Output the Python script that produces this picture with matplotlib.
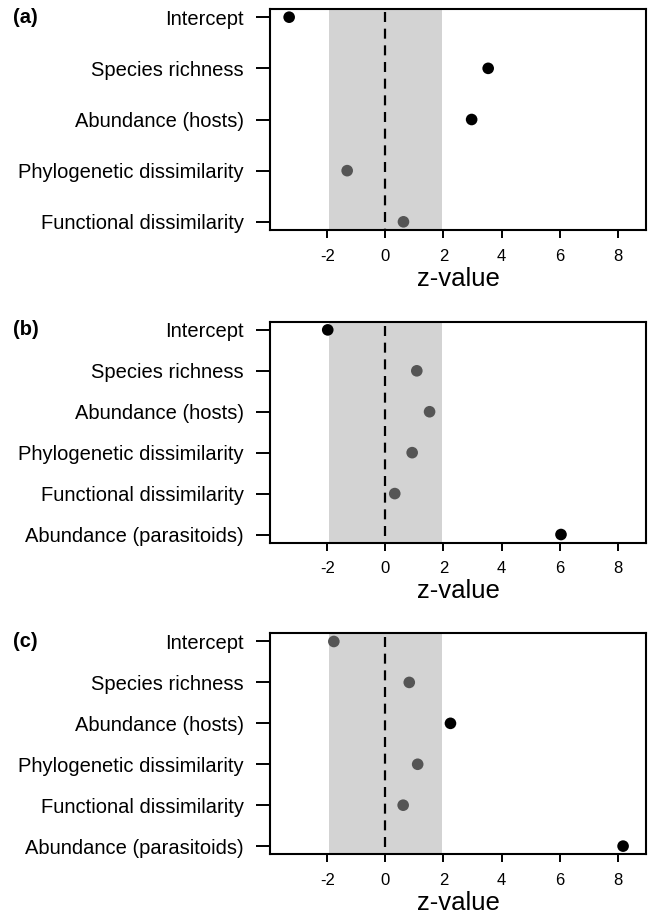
import matplotlib
matplotlib.use("Agg")
import matplotlib.pyplot as plt

plt.rcParams['font.family'] = ['Liberation Sans', 'DejaVu Sans']

# predictor names
terms_a = ["Intercept", "Species richness", "Abundance (hosts)",
           "Phylogenetic dissimilarity", "Functional dissimilarity"]
terms_bc = terms_a + ["Abundance (parasitoids)"]

# z-values
z_a = [-3.32, 3.54, 2.97, -1.32, 0.62]
z_b = [-1.99, 1.08, 1.52, 0.92, 0.32, 6.05]
z_c = [-1.78, 0.82, 2.24, 1.11, 0.61, 8.19]

panels = [("(a)", terms_a, z_a), ("(b)", terms_bc, z_b), ("(c)", terms_bc, z_c)]
xticks = [-2, 0, 2, 4, 6, 8]

fig = plt.figure(figsize=(6.51, 9.17), dpi=100)
left, width, height = 270 / 651, 376 / 651, 221 / 917
bottoms = [(917 - 230) / 917, (917 - 542.7) / 917, (917 - 854.3) / 917]

for (tag, terms, z), b in zip(panels, bottoms):
    ax = fig.add_axes([left, b, width, height])
    n = len(terms)
    pos = list(range(1, n + 1))
    pad = 0.04 * (n - 1)

    ax.axvspan(-1.96, 1.96, color="#d3d3d3", lw=0, zorder=0)
    ax.plot([0, 0], [0.9, n + pad], color="black", lw=1.6,
            ls=(0, (4.5, 3)), zorder=1)
    cols = ["black" if abs(v) > 1.96 else "#555555" for v in z]
    ax.scatter(z, pos, s=70, c=cols, zorder=3, linewidths=0)

    ax.set_xlim(-3.98, 8.98)
    ax.set_ylim(n + pad, 1 - pad)
    ax.set_yticks(pos)
    ax.set_yticklabels(terms, fontsize=14.5)
    ax.set_xticks(xticks)
    ax.set_xticklabels([str(t) for t in xticks], fontsize=12)
    ax.tick_params(axis="y", length=10, width=1.4, pad=9)
    ax.tick_params(axis="x", length=5.5, width=1.4, pad=8)
    for sp in ax.spines.values():
        sp.set_linewidth(1.5)
    ax.set_xlabel("z-value", fontsize=18.5, labelpad=2)

    ax.annotate(tag, xy=(13 / 651, 1), xycoords=("figure fraction", "data"),
                ha="left", va="center", fontsize=14.5, fontweight="bold")

fig.savefig("out.png", dpi=100)
